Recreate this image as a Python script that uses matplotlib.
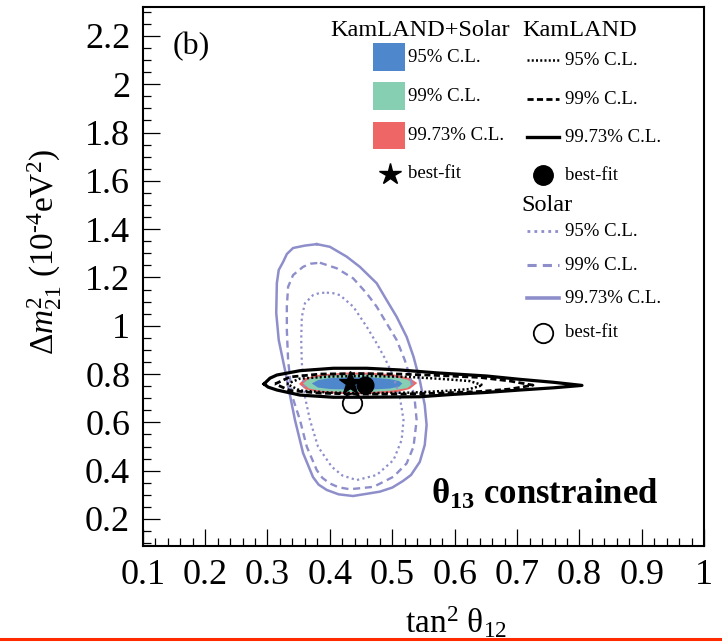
import matplotlib.pyplot as plt
from matplotlib.patches import Polygon, Rectangle
from matplotlib.ticker import MultipleLocator, FuncFormatter

plt.rcParams['font.family'] = ['Liberation Serif', 'DejaVu Serif']
plt.rcParams['mathtext.fontset'] = 'custom'
plt.rcParams['mathtext.rm'] = 'Liberation Serif'
plt.rcParams['mathtext.it'] = 'Liberation Serif:italic'
plt.rcParams['mathtext.bf'] = 'Liberation Serif:bold'

# ---- Solar contours (tan^2 theta12, dm2_21 in 1e-4 eV^2)
solar_9973_x = [0.379, 0.400, 0.427, 0.448, 0.475, 0.491, 0.507, 0.523, 0.534, 0.544, 0.552, 0.555,
                0.552, 0.544, 0.530, 0.517, 0.500, 0.480, 0.437, 0.414, 0.395, 0.382, 0.373, 0.357,
                0.344, 0.336, 0.328, 0.318, 0.314, 0.315, 0.318, 0.325, 0.331, 0.341, 0.360]
solar_9973_y = [1.338, 1.327, 1.286, 1.244, 1.176, 1.106, 1.037, 0.954, 0.872, 0.775, 0.672, 0.589,
                0.506, 0.436, 0.382, 0.357, 0.330, 0.313, 0.295, 0.302, 0.320, 0.342, 0.373, 0.473,
                0.610, 0.713, 0.817, 0.941, 1.053, 1.177, 1.231, 1.264, 1.297, 1.322, 1.332]

solar_99_x = [0.384, 0.411, 0.4375, 0.459, 0.475, 0.491, 0.507, 0.520, 0.530, 0.536, 0.539, 0.534,
              0.523, 0.502, 0.470, 0.432, 0.414, 0.400, 0.388, 0.379, 0.363, 0.352, 0.339, 0.333,
              0.331, 0.331, 0.333, 0.341, 0.357, 0.369]
solar_99_y = [1.261, 1.238, 1.196, 1.134, 1.079, 1.010, 0.941, 0.858, 0.775, 0.692, 0.609, 0.499,
              0.430, 0.375, 0.333, 0.323, 0.331, 0.347, 0.370, 0.402, 0.499, 0.610, 0.713, 0.858,
              0.982, 1.079, 1.161, 1.210, 1.244, 1.257]

solar_95_x = [0.395, 0.405, 0.416, 0.4375, 0.459, 0.475, 0.488, 0.501, 0.512, 0.518, 0.515, 0.502,
              0.475, 0.443, 0.420, 0.403, 0.381, 0.368, 0.360, 0.355, 0.354, 0.355, 0.360, 0.373,
              0.384]
solar_95_y = [1.137, 1.135, 1.127, 1.079, 0.996, 0.927, 0.866, 0.796, 0.706, 0.610, 0.527, 0.444,
              0.382, 0.361, 0.380, 0.416, 0.499, 0.610, 0.706, 0.846, 0.941, 1.037, 1.093, 1.127,
              1.136]

# ---- KamLAND contours
kl_9973_x = [0.2944, 0.304, 0.315, 0.352, 0.4055, 0.459, 0.512, 0.571, 0.651, 0.705, 0.758, 0.804,
             0.758, 0.705, 0.651, 0.598, 0.544, 0.459, 0.4055, 0.352, 0.315, 0.301]
kl_9973_y = [0.759, 0.783, 0.796, 0.814, 0.824, 0.824, 0.817, 0.805, 0.792, 0.778, 0.766, 0.753,
             0.743, 0.734, 0.724, 0.716, 0.706, 0.704, 0.704, 0.713, 0.734, 0.746]

kl_99_x = [0.312, 0.336, 0.384, 0.448, 0.512, 0.576, 0.6405, 0.689, 0.7255, 0.689, 0.6405, 0.576,
           0.512, 0.448, 0.384, 0.336]
kl_99_y = [0.759, 0.788, 0.800, 0.802, 0.800, 0.794, 0.786, 0.771, 0.754, 0.738, 0.728, 0.721,
           0.717, 0.717, 0.721, 0.732]

kl_95_x = [0.331, 0.352, 0.400, 0.464, 0.528, 0.584, 0.624, 0.645, 0.624, 0.584, 0.528, 0.464,
           0.400, 0.352]
kl_95_y = [0.759, 0.781, 0.790, 0.792, 0.788, 0.779, 0.771, 0.754, 0.738, 0.730, 0.723, 0.721,
           0.723, 0.732]

# ---- KamLAND + Solar filled regions
comb_9973_x = [0.3505, 0.360, 0.384, 0.424, 0.464, 0.504, 0.528, 0.540, 0.528, 0.504, 0.464, 0.424,
               0.384, 0.360]
comb_9973_y = [0.759, 0.783, 0.798, 0.806, 0.806, 0.798, 0.783, 0.763, 0.738, 0.723, 0.717, 0.717,
               0.723, 0.738]
comb_99_x = [0.357, 0.3665, 0.387, 0.424, 0.464, 0.501, 0.524, 0.534, 0.524, 0.501, 0.464, 0.424,
             0.387, 0.3665]
comb_99_y = [0.761, 0.781, 0.792, 0.798, 0.798, 0.790, 0.777, 0.761, 0.742, 0.732, 0.725, 0.725,
             0.730, 0.740]
comb_95_x = [0.371, 0.381, 0.400, 0.432, 0.467, 0.496, 0.511, 0.516, 0.511, 0.496, 0.467, 0.432,
             0.400, 0.381]
comb_95_y = [0.761, 0.775, 0.783, 0.786, 0.786, 0.779, 0.771, 0.761, 0.748, 0.740, 0.736, 0.736,
             0.738, 0.744]

best_comb = (0.433, 0.761)
best_kl = (0.456, 0.754)
best_solar = (0.435, 0.681)

blue = '#4f87cc'
green = '#86cfb3'
red = '#ee6666'
lav = '#8e8ecb'

fig = plt.figure(figsize=(7.22, 6.44), dpi=100)
ax = fig.add_axes([0.19765, 0.15217, 0.7778, 0.83696])
ax.set_xlim(0.1, 1.0)
ax.set_ylim(0.088, 2.32)

# filled combined regions
for xs, ys, c in [(comb_9973_x, comb_9973_y, red), (comb_99_x, comb_99_y, green), (comb_95_x, comb_95_y, blue)]:
    ax.add_patch(Polygon(list(zip(xs, ys)), closed=True, fc=c, ec='none', zorder=2))

# solar lines
for xs, ys, ls, lw in [(solar_95_x, solar_95_y, (0, (1, 1.5)), 1.6),
                       (solar_99_x, solar_99_y, (0, (3, 2)), 1.7),
                       (solar_9973_x, solar_9973_y, '-', 1.8)]:
    ax.plot(xs + xs[:1], ys + ys[:1], color=lav, ls=ls, lw=lw, zorder=3)

# KamLAND lines
for xs, ys, ls, lw in [(kl_95_x, kl_95_y, (0, (0.8, 0.9)), 1.8),
                       (kl_99_x, kl_99_y, (0, (2.2, 1.2)), 2.0),
                       (kl_9973_x, kl_9973_y, '-', 2.3)]:
    ax.plot(xs + xs[:1], ys + ys[:1], color='black', ls=ls, lw=lw, zorder=4)

ax.plot(*best_solar, 'o', mfc='none', mec='black', ms=14, mew=1.3, zorder=5)
ax.plot(*best_kl, 'o', color='black', ms=12, zorder=6)
ax.plot(*best_comb, '*', color='black', ms=17, zorder=7)

# axes styling
ax.xaxis.set_major_locator(MultipleLocator(0.1))
ax.xaxis.set_minor_locator(MultipleLocator(0.02))
ax.yaxis.set_major_locator(MultipleLocator(0.2))
ax.yaxis.set_minor_locator(MultipleLocator(0.05))
fmt = FuncFormatter(lambda v, p: '%g' % round(v, 2))
ax.xaxis.set_major_formatter(fmt)
ax.yaxis.set_major_formatter(fmt)
ax.tick_params(which='both', direction='in', top=False, right=False, labelsize=26, width=0.9)
ax.tick_params(which='major', length=12, pad=9)
ax.tick_params(which='minor', length=6)
for s in ax.spines.values():
    s.set_linewidth(1.5)


def pa(X, Y):
    # pixel position -> axes fraction
    return ((X - 142.7) / 561.6, (546 - Y) / 539)


def txt(X, Y, s, size=13.5, **kw):
    ax.text(*pa(X, Y), s, transform=ax.transAxes, fontsize=size, va='center', ha='left', **kw)


def sample(Y, color, ls, lw):
    x0, y0 = pa(527, Y)
    x1, _ = pa(559, Y)
    ax.plot([x0, x1], [y0, y0], color=color, ls=ls, lw=lw, transform=ax.transAxes, clip_on=False)


txt(330, 30, 'KamLAND+Solar', 17.5)
txt(522, 30, 'KamLAND', 17.5)
for Y0, Y1, c, lab in [(43, 71, blue, '95% C.L.'), (82, 110, green, '99% C.L.'), (122, 149, red, '99.73% C.L.')]:
    x0, y1 = pa(373, Y0)
    x1, y0 = pa(405, Y1)
    ax.add_patch(Rectangle((x0, y0), x1 - x0, y1 - y0, transform=ax.transAxes, fc=c, ec='none'))
    txt(408, (Y0 + Y1) / 2, lab)
ax.plot(*pa(390, 174), '*', color='black', ms=16, transform=ax.transAxes)
txt(408, 173, 'best-fit')

for Y, ls, lw, lab in [(60, (0, (0.8, 0.9)), 1.8, '95% C.L.'), (99, (0, (2.2, 1.2)), 2.0, '99% C.L.'),
                       (137, '-', 2.4, '99.73% C.L.')]:
    sample(Y, 'black', ls, lw)
    txt(565, Y, lab)
ax.plot(*pa(543, 175), 'o', color='black', ms=14, transform=ax.transAxes)
txt(565, 175, 'best-fit')

txt(521, 205, 'Solar', 17.5)
for Y, ls, lw, lab in [(231, (0, (1, 1.5)), 2.0, '95% C.L.'), (265, (0, (3, 2)), 2.2, '99% C.L.'),
                       (298, '-', 2.6, '99.73% C.L.')]:
    sample(Y, lav, ls, lw)
    txt(565, Y, lab)
ax.plot(*pa(543, 333), 'o', mfc='none', mec='black', ms=14, mew=1.3, transform=ax.transAxes)
txt(565, 332, 'best-fit')

txt(173, 47, '(b)', 23)
ax.text(*pa(545, 495), r'θ$_{\mathbf{13}}$ constrained', transform=ax.transAxes, fontsize=25,
        fontweight='bold', ha='center', va='center')

fig.text(456 / 722, 1 - 622 / 644, r'tan$^{2}$ θ$_{12}$', fontsize=24, ha='center', va='center')
fig.text(45 / 722, 1 - 252 / 644, r'$\Delta m^{2}_{21}$ (10$^{\mathrm{‐4}}$eV$^{2}$)', fontsize=24,
         rotation=90, ha='center', va='center')

fig.add_artist(plt.Line2D([0, 1], [1 - 639 / 644] * 2, color='#ff2a00', lw=2.2, transform=fig.transFigure))

fig.savefig('out.png', dpi=100)
